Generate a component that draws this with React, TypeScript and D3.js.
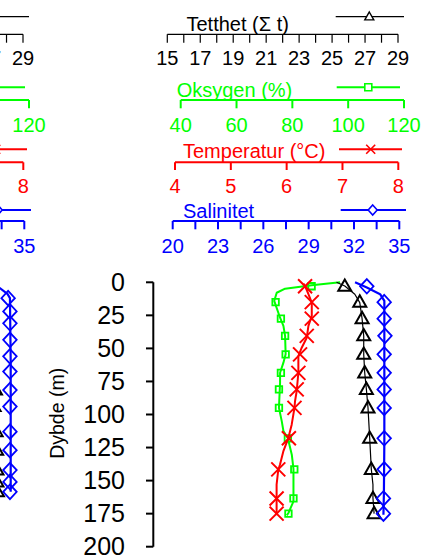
import React from "react";
import * as d3 from "d3";

// ---------------- data ----------------
const depthTicks = [0, 25, 50, 75, 100, 125, 150, 175, 200];

const densityTicks = [15, 16, 17, 18, 19, 20, 21, 22, 23, 24, 25, 26, 27, 28, 29];
const densityLabels = [15, 17, 19, 21, 23, 25, 27, 29];
const oxygenTicks = [40, 60, 80, 100, 120];
const oxygenLabels = [40, 60, 80, 100, 120];
const tempTicks = [4, 5, 6, 7, 8];
const tempLabels = [4, 5, 6, 7, 8];
const salinityTicks = [20, 21.5, 23, 24.5, 26, 27.5, 29, 30.5, 32, 33.5, 35];
const salinityLabels = [20, 23, 26, 29, 32, 35];

// right station (fully visible)
const markerDepths = [3, 15, 27.5, 40.5, 54.5, 68.5, 81, 95, 118, 141.5, 163.5, 175];
const densityMarkers = [25.77, 26.68, 26.82, 26.92, 26.92, 26.98, 27.08, 27.18, 27.28, 27.38, 27.48, 27.55];
const oxygenMarkers = [86.9, 74.0, 75.9, 77.4, 77.6, 75.9, 75.2, 75.2, 78.4, 80.7, 80.4, 78.6];
const tempMarkers = [6.33, 6.45, 6.45, 6.36, 6.24, 6.21, 6.18, 6.14, 6.04, 5.85, 5.82, 5.82];
const salinityMarkers = [32.85, 34.0, 34.0, 34.05, 34.0, 34.0, 34.0, 34.0, 34.0, 34.0, 33.95, 33.95];

const oxygenProfileDepth = [0, 2.3, 4.8, 7.9, 14.1, 26.8, 33, 40.6, 54.2, 60.8, 68.4, 76, 95, 105, 112.5, 118, 130.4, 141.2, 153, 165.7, 174.5, 176.3];
const oxygenProfile = [97.1, 86.9, 77.4, 74.4, 73.5, 75.6, 76.8, 77.4, 77.6, 76.8, 75.6, 75.6, 75.2, 76.2, 76.8, 78.4, 79.8, 80.4, 80.4, 80.4, 78.6, 78.0];

const tempProfileDepth = [1, 2.8, 9, 15.4, 25.5, 33, 42, 49.5, 55.8, 68.4, 82.2, 90, 95, 107.7, 117.8, 127.9, 138, 141.8, 153, 175];
const tempProfile = [6.3, 6.33, 6.39, 6.45, 6.45, 6.39, 6.36, 6.27, 6.21, 6.21, 6.18, 6.15, 6.14, 6.09, 6.03, 5.94, 5.88, 5.85, 5.82, 5.82];

const densityProfileDepth = [0, 2.8, 9, 15.4, 27.5, 40.6, 54.5, 68.4, 80.7, 95, 117.3, 141.2, 153, 163.2, 175];
const densityProfile = [25.27, 25.77, 26.38, 26.68, 26.82, 26.92, 26.92, 26.98, 27.08, 27.18, 27.28, 27.38, 27.48, 27.48, 27.55];

const salinityProfileDepth = [0, 4, 9, 14, 60, 120, 160, 175.8];
const salinityProfile = [32.07, 32.85, 33.73, 34.01, 34.01, 34.01, 33.98, 33.95];

// left station (only its right edge is visible)
const leftMarkerDepths = [12, 22, 31, 43.5, 56, 67.5, 81.5, 94, 113, 127, 142, 151, 158.5];
const leftSalinityMarkers = [33.93, 34.05, 34.05, 34.05, 34.05, 34.05, 34.05, 34.05, 34.05, 34.05, 34.05, 34.05, 34.05];
const leftDensityMarkers = [26.6, 26.85, 26.95, 27.0, 27.05, 27.1, 27.33, 27.25, 27.37, 27.4, 27.42, 27.42, 27.45];
const leftSalinityProfileDepth = [0, 4.5, 9, 12, 60, 120, 158.5];
const leftSalinityProfile = [32.2, 33.4, 33.9, 34.05, 34.1, 34.1, 34.1];
const leftDensityProfileDepth = [0, 12, 43.5, 81.5, 113, 158.5];
const leftDensityProfile = [25.5, 26.6, 27.0, 27.33, 27.37, 27.45];

// ---------------- layout ----------------
const W = 428;
const H = 557;
const FONT = "'Liberation Sans', Arial, Helvetica, sans-serif";
const GREEN = "#00ff00";
const RED = "#ff0000";
const BLUE = "#0000ff";

const yScale = d3.scaleLinear().domain([0, 200]).range([282.3, 546.7]);
const densityScale = d3.scaleLinear().domain([15, 29]).range([167.3, 398]);
const oxygenScale = d3.scaleLinear().domain([40, 120]).range([180.7, 404]);
const tempScale = d3.scaleLinear().domain([4, 8]).range([175, 398.3]);
const salinityScale = d3.scaleLinear().domain([20, 35]).range([172.7, 399.3]);

function markerPath(type: string, s: number): string {
  if (type === "tri") {
    const h = s * 0.87;
    return `M0,${-h * 0.6}L${s / 2},${h * 0.4}L${-s / 2},${h * 0.4}Z`;
  }
  if (type === "diamond") return `M0,${-s / 2}L${s / 2 - 0.5},0L0,${s / 2}L${-s / 2 + 0.5},0Z`;
  if (type === "x") return `M${-s / 2},${-s / 2}L${s / 2},${s / 2}M${-s / 2},${s / 2}L${s / 2},${-s / 2}`;
  return `M${-s / 2},${-s / 2}h${s}v${s}h${-s}Z`;
}

type AxisSpec = {
  title: string;
  color: string;
  scale: d3.ScaleLinear<number, number>;
  ticks: number[];
  labels: number[];
  axisY: number;
  tickLen: number;
  labelY: number;
  titleX: number;
  titleY: number;
  legendY: number;
  legendX1: number;
  legendX2: number;
  legendMarkerX: number;
  marker: string;
  legendSize: number;
  width: number;
};

const axes: AxisSpec[] = [
  { title: "Tetthet (\u03A3 t)", color: "#000", scale: densityScale, ticks: densityTicks, labels: densityLabels, axisY: 34.3, tickLen: 8.4, labelY: 65, titleX: 186.5, titleY: 30.5, legendY: 16.7, legendX1: 335.7, legendX2: 404, legendMarkerX: 369.3, marker: "tri", legendSize: 9, width: 1.2 },
  { title: "Oksygen (%)", color: GREEN, scale: oxygenScale, ticks: oxygenTicks, labels: oxygenLabels, axisY: 100, tickLen: 8.3, labelY: 131.5, titleX: 176.7, titleY: 96.5, legendY: 87.3, legendX1: 336.7, legendX2: 400, legendMarkerX: 368.3, marker: "sq", legendSize: 7, width: 2 },
  { title: "Temperatur (\u00B0C)", color: RED, scale: tempScale, ticks: tempTicks, labels: tempLabels, axisY: 162.3, tickLen: 7.7, labelY: 193.3, titleX: 183, titleY: 158.3, legendY: 149.3, legendX1: 339, legendX2: 402, legendMarkerX: 370.7, marker: "x", legendSize: 9, width: 2 },
  { title: "Salinitet", color: BLUE, scale: salinityScale, ticks: salinityTicks, labels: salinityLabels, axisY: 221, tickLen: 8.3, labelY: 253.3, titleX: 183, titleY: 218.3, legendY: 210, legendX1: 340.7, legendX2: 406, legendMarkerX: 372.7, marker: "diamond", legendSize: 10, width: 2 },
];

type Series = {
  key: string;
  color: string;
  scale: d3.ScaleLinear<number, number>;
  profileDepth: number[];
  profile: number[];
  markerDepth: number[];
  markers: number[];
  marker: string;
  size: number;
  lineWidth: number;
  markerWidth: number;
};

function Panel({ dx, series, full }: { dx: number; series: Series[]; full: boolean }) {
  // only texts that fall (at least partly) inside the picture are drawn
  const visible = (x: number) => x + dx > -12;
  return (
    <g transform={`translate(${dx},0)`}>
      {axes.map((a) => (
        <g key={a.title}>
          {full && (
            <text x={a.titleX} y={a.titleY} fill={a.color} fontSize={20} fontFamily={FONT}>
              {a.title}
            </text>
          )}
          <line x1={a.legendX1} x2={a.legendX2} y1={a.legendY} y2={a.legendY} stroke={a.color} strokeWidth={a.width} />
          <path
            d={markerPath(a.marker, a.legendSize)}
            transform={`translate(${a.legendMarkerX},${a.legendY})`}
            fill="#fff"
            stroke={a.color}
            strokeWidth={a.width === 2 ? 1.6 : 1.4}
          />
          <line
            x1={a.scale(a.ticks[0])}
            x2={a.scale(a.ticks[a.ticks.length - 1])}
            y1={a.axisY}
            y2={a.axisY}
            stroke={a.color}
            strokeWidth={a.width}
          />
          {a.ticks.map((t) => (
            <line key={t} x1={a.scale(t)} x2={a.scale(t)} y1={a.axisY} y2={a.axisY + a.tickLen} stroke={a.color} strokeWidth={a.width} />
          ))}
          {a.labels
            .filter((t) => full || visible(a.scale(t)))
            .map((t) => (
              <text key={t} x={a.scale(t)} y={a.labelY} textAnchor="middle" fill={a.color} fontSize={20} fontFamily={FONT}>
                {t}
              </text>
            ))}
        </g>
      ))}
      {full && (
        <g>
          <line x1={153.3} x2={153.3} y1={yScale(0)} y2={yScale(200)} stroke="#000" strokeWidth={2} />
          {depthTicks.map((t) => (
            <g key={t}>
              <line x1={146} x2={153.3} y1={yScale(t)} y2={yScale(t)} stroke="#000" strokeWidth={2} />
              <text x={125} y={yScale(t) + 8.2} textAnchor="end" fontSize={25} fontFamily={FONT} fill="#000">
                {t}
              </text>
            </g>
          ))}
          <text
            transform={`translate(${63.5},${413.3}) rotate(-90)`}
            textAnchor="middle"
            fontSize={19.5}
            fontFamily={FONT}
            fill="#000"
          >
            Dybde (m)
          </text>
        </g>
      )}
      {series.map((s) => {
        const pts = s.profileDepth.map((d, i) => [s.profile[i], d] as [number, number]);
        const line = d3
          .line<[number, number]>()
          .x((p) => s.scale(p[0]))
          .y((p) => yScale(p[1]));
        return (
          <g key={s.key}>
            <path d={line(pts) || ""} fill="none" stroke={s.color} strokeWidth={s.lineWidth} strokeLinejoin="round" />
            {s.markers.map((v, i) => (
              <path
                key={i}
                d={markerPath(s.marker, s.size)}
                transform={`translate(${s.scale(v)},${yScale(s.markerDepth[i])})`}
                fill="none"
                stroke={s.color}
                strokeWidth={s.markerWidth}
              />
            ))}
          </g>
        );
      })}
    </g>
  );
}

const rightSeries: Series[] = [
  { key: "ox", color: GREEN, scale: oxygenScale, profileDepth: oxygenProfileDepth, profile: oxygenProfile, markerDepth: markerDepths, markers: oxygenMarkers, marker: "sq", size: 6.5, lineWidth: 2, markerWidth: 1.8 },
  { key: "temp", color: RED, scale: tempScale, profileDepth: tempProfileDepth, profile: tempProfile, markerDepth: markerDepths, markers: tempMarkers, marker: "x", size: 14, lineWidth: 2, markerWidth: 2 },
  { key: "dens", color: "#000", scale: densityScale, profileDepth: densityProfileDepth, profile: densityProfile, markerDepth: markerDepths, markers: densityMarkers, marker: "tri", size: 13, lineWidth: 1.2, markerWidth: 2 },
  { key: "sal", color: BLUE, scale: salinityScale, profileDepth: salinityProfileDepth, profile: salinityProfile, markerDepth: markerDepths, markers: salinityMarkers, marker: "diamond", size: 14.5, lineWidth: 2.2, markerWidth: 1.8 },
];

const leftSeries: Series[] = [
  { key: "dens", color: "#000", scale: densityScale, profileDepth: leftDensityProfileDepth, profile: leftDensityProfile, markerDepth: leftMarkerDepths, markers: leftDensityMarkers, marker: "tri", size: 13, lineWidth: 1.2, markerWidth: 2 },
  { key: "sal", color: BLUE, scale: salinityScale, profileDepth: leftSalinityProfileDepth, profile: leftSalinityProfile, markerDepth: leftMarkerDepths, markers: leftSalinityMarkers, marker: "diamond", size: 14.5, lineWidth: 2.2, markerWidth: 1.8 },
];

export default function App() {
  return (
    <svg width={W} height={H} style={{ position: "absolute", left: 0, top: 0, display: "block" }}>
      <rect x={0} y={0} width={W} height={H} fill="#fff" />
      <Panel dx={-375} series={leftSeries} full={false} />
      <Panel dx={0} series={rightSeries} full={true} />
    </svg>
  );
}
